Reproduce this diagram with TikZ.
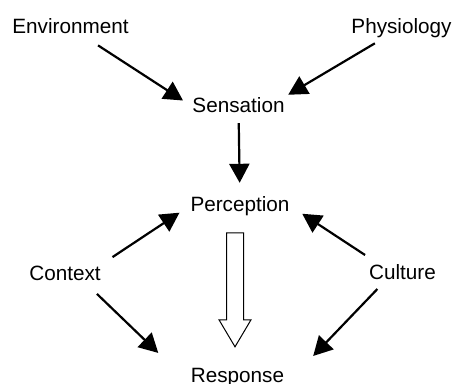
\documentclass[tikz,border=0pt]{standalone}
\usepackage{fontspec}
\setmainfont{Liberation Sans}
\usetikzlibrary{arrows.meta}

\begin{document}
\begin{tikzpicture}[x=1pt, y=-1pt,
  lbl/.style={font=\fontsize{20.7}{24}\selectfont, inner sep=0pt, text height=15pt, text depth=4pt, anchor=base},
  pil/.style={line width=2.2pt, -{Triangle[length=19pt,width=20pt]}},
  hollow/.style={line width=1pt, fill=white, line join=miter}]
 \useasboundingbox (0,0) rectangle (454,383);
 \node[lbl] (env) at (70.5,33) {Environment};
 \node[lbl] (phys) at (401.5,33) {Physiology};
 \node[lbl] (sens) at (238.5,112) {Sensation};
 \node[lbl] (perc) at (240,211) {Perception};
 \node[lbl] (ctx) at (65,280) {Context};
 \node[lbl] (cul) at (402.5,279) {Culture};
 \node[lbl] (resp) at (237.5,382) {Response};

 \draw[pil, shorten <=15pt, shorten >=11pt] (env) -- (sens.west);
 \draw[pil, shorten <=12pt, shorten >=4pt] (phys) -- (sens.north east);
 \draw[pil, shorten <=7pt, shorten >=13pt] (sens) -- (perc);
 \draw[pil, shorten <=14pt, shorten >=13pt] (ctx.north east) -- (perc.west);
 \draw[pil, shorten <=16pt, shorten >=15pt] ([xshift=9.5pt]cul.north west) -- (perc.east);
 \draw[pil, shorten <=14pt, shorten >=20pt] ([xshift=-14pt]ctx.south east) -- ([xshift=-18pt]resp.north west);
 \draw[pil, shorten <=8pt, shorten >=15pt] ([xshift=14pt]cul.south west) -- ([xshift=18.5pt]resp.north east);
 % response arrow
 \draw[hollow] ([xshift=-2.5pt, yshift=20pt]resp.north) -- ++(16,-27) -- ++(-7.5,0) -- ++(0,-87)
   -- ++(-17,0) -- ++(0,87) -- ++(-7.5,0) -- cycle;
\end{tikzpicture}
\end{document}
